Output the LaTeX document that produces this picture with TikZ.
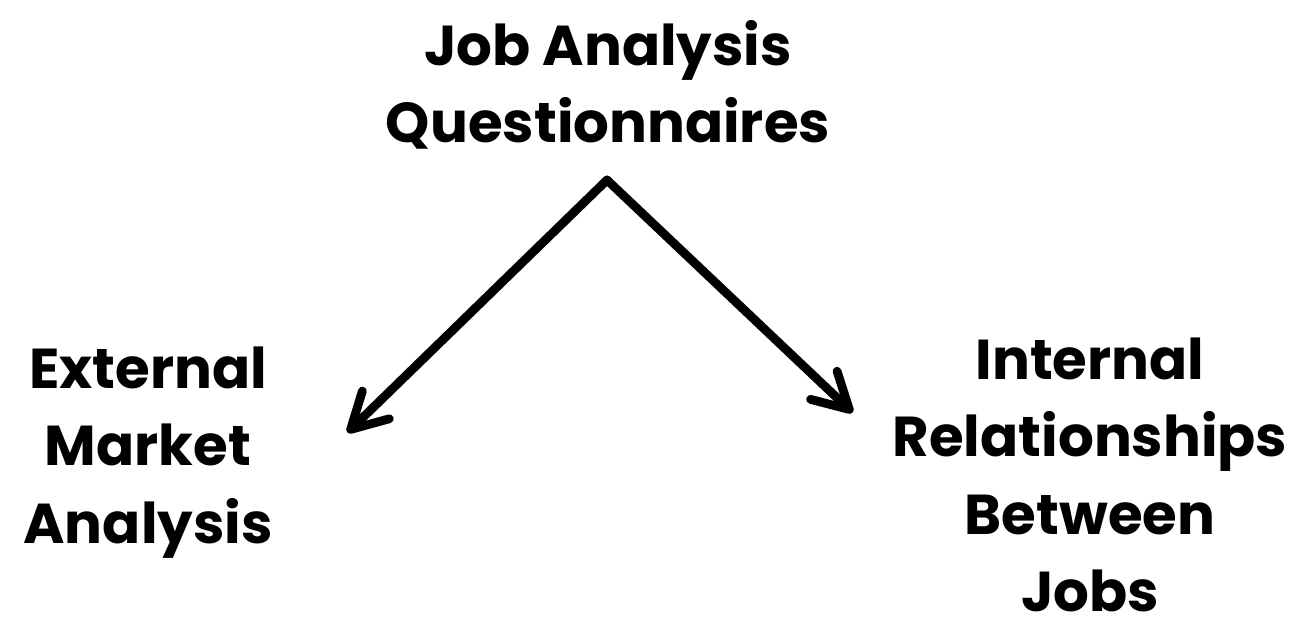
\documentclass[tikz,border=0pt]{standalone}
\usepackage{fontspec}
\setmainfont{Poppins}
\usetikzlibrary{arrows.meta}
\tikzset{
  label_n/.style = {align=center, inner sep=0pt, font=\fontsize{32}{44}\selectfont\bfseries},
  arrow_l/.style = {line width=5pt, line cap=round, line join=round, -{Straight Barb[length=20pt,width=22pt,line width=5pt,round]}}
}
\begin{document}
\begin{tikzpicture}
\useasboundingbox (0,0) rectangle (26.18,12.8);
\node [label_n] (job) at (12.16,11.1) {Job Analysis\\Questionnaires};
\node [label_n] (ext) at (2.96,3.75) {External\\Market\\Analysis};
\node [label_n] (int) at (21.8,3.3) {Internal\\Relationships\\Between\\Jobs};
\coordinate (apex) at (12.14,9.2);
\coordinate (exttip) at (6.95,4.15);
\coordinate (inttip) at (17.05,4.55);
\draw [arrow_l] (apex) -- (exttip);
\draw [arrow_l] (apex) -- (inttip);
\end{tikzpicture}
\end{document}
